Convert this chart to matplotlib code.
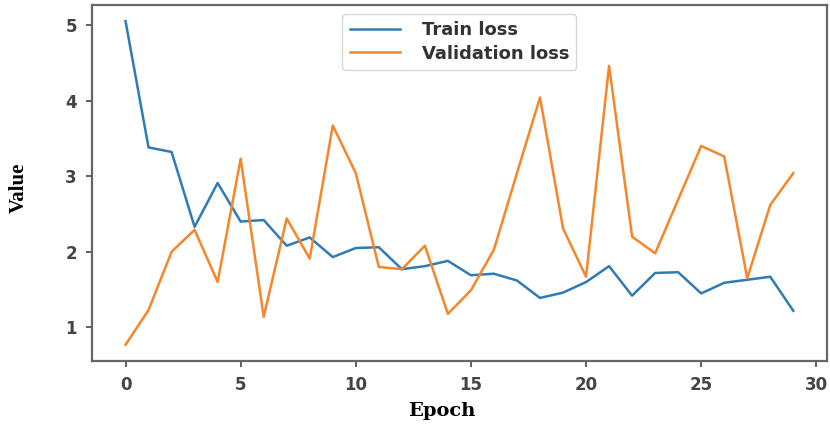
"""Train / validation loss per epoch."""
import matplotlib
matplotlib.use("Agg")
import matplotlib.pyplot as plt

epochs = list(range(30))
train_loss = [5.05, 3.38, 3.32, 2.33, 2.91, 2.40, 2.42, 2.08, 2.19, 1.93,
              2.05, 2.06, 1.77, 1.81, 1.88, 1.69, 1.71, 1.62, 1.39, 1.46,
              1.60, 1.81, 1.42, 1.72, 1.73, 1.45, 1.59, 1.63, 1.67, 1.22]
val_loss = [0.77, 1.23, 2.00, 2.29, 1.60, 3.23, 1.14, 2.44, 1.91, 3.67,
            3.04, 1.80, 1.77, 2.08, 1.18, 1.49, 2.03, 3.04, 4.04, 2.31,
            1.67, 4.46, 2.20, 1.98, 2.69, 3.40, 3.26, 1.65, 2.62, 3.04]

fig = plt.figure(figsize=(8.3, 4.29), dpi=100)
ax = fig.add_axes([0.111, 0.1585, 0.885, 0.83])

ax.plot(epochs, train_loss, color="#2f7bb5", lw=1.8, label="Train loss")
ax.plot(epochs, val_loss, color="#f5862a", lw=1.8, label="Validation loss")

ax.set_xticks([0, 5, 10, 15, 20, 25, 30])
ax.set_yticks([1, 2, 3, 4, 5])
ax.tick_params(labelsize=12, length=4, width=1.2, pad=7, colors="#444444")
for lbl in ax.get_xticklabels() + ax.get_yticklabels():
    lbl.set_fontweight("bold")
for s in ax.spines.values():
    s.set_color("#666666")
    s.set_linewidth(1.6)

ax.set_xlabel("Epoch", family="DejaVu Serif", fontsize=14, fontweight="bold")
ax.xaxis.set_label_coords(0.476, -0.115)
ax.set_ylabel("Value", family="Liberation Serif", fontsize=15, fontweight="bold")
ax.yaxis.set_label_coords(-0.086, 0.486)

leg = ax.legend(loc="upper center", prop={"size": 13, "weight": "bold"},
                frameon=True, handlelength=2.8, handletextpad=1.2,
                borderpad=0.4, labelspacing=0.3)
for t in leg.get_texts():
    t.set_color("#333333")

fig.savefig("out.png", dpi=100)
